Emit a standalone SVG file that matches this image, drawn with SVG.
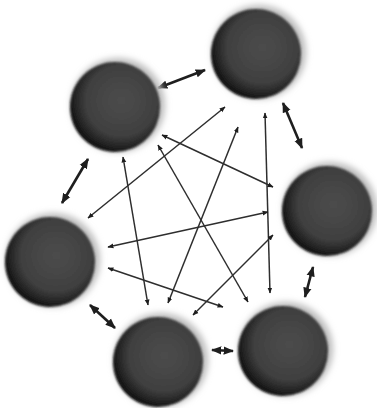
<svg xmlns="http://www.w3.org/2000/svg" width="377" height="408" viewBox="0 0 377 408">
<defs>
<style>
.edge{stroke:#2e2e2e;stroke-width:1.5;fill:none;marker-start:url(#ah);marker-end:url(#ah)}
.short{stroke:#1e1e1e;stroke-width:2.6}
.halo{fill:#bdbdbd;filter:url(#blur)}
.ball{fill:url(#g);filter:url(#soft)}
</style>
<radialGradient id="g" cx="0.57" cy="0.43" r="0.6">
<stop offset="0" stop-color="#4c4c4c"/>
<stop offset="0.65" stop-color="#404040"/>
<stop offset="0.86" stop-color="#232323"/>
<stop offset="1" stop-color="#0a0a0a"/>
</radialGradient>
<filter id="blur" x="-20%" y="-20%" width="140%" height="140%"><feGaussianBlur stdDeviation="3"/></filter>
<filter id="soft" x="-10%" y="-10%" width="120%" height="120%"><feGaussianBlur stdDeviation="1"/></filter>
<marker id="ah" viewBox="0 0 10 10" refX="9" refY="5" markerWidth="4" markerHeight="4" orient="auto-start-reverse">
<path d="M0,1 L10,5 L0,9 z" fill="#1e1e1e"/>
</marker>
</defs>
<rect width="377" height="408" fill="#ffffff"/>
<g id="connectors">
<line class="edge short" x1="158" y1="88" x2="205" y2="70"/>
<line class="edge short" x1="88" y1="159" x2="62" y2="203"/>
<line class="edge short" x1="283" y1="103" x2="302" y2="148"/>
<line class="edge short" x1="313" y1="267" x2="305" y2="297"/>
<line class="edge short" x1="212" y1="350" x2="233" y2="351"/>
<line class="edge short" x1="90" y1="305" x2="115" y2="328"/>
<line class="edge" x1="225" y1="107" x2="88" y2="218"/>
<line class="edge" x1="238" y1="127" x2="168" y2="303"/>
<line class="edge" x1="265" y1="113" x2="270" y2="293"/>
<line class="edge" x1="123" y1="157" x2="148" y2="305"/>
<line class="edge" x1="158" y1="145" x2="248" y2="302"/>
<line class="edge" x1="162" y1="135" x2="273" y2="187"/>
<line class="edge" x1="268" y1="212" x2="108" y2="247"/>
<line class="edge" x1="273" y1="235" x2="193" y2="315"/>
<line class="edge" x1="108" y1="268" x2="223" y2="307"/>
</g>
<g id="node-a">
<circle class="halo" cx="118" cy="105" r="47"/>
<circle class="ball" cx="115" cy="107" r="45"/>
</g>
<g id="node-b">
<circle class="halo" cx="259" cy="52" r="47"/>
<circle class="ball" cx="256" cy="54" r="45"/>
</g>
<g id="node-c">
<circle class="halo" cx="330" cy="209" r="47"/>
<circle class="ball" cx="327" cy="211" r="45"/>
</g>
<g id="node-d">
<circle class="halo" cx="53" cy="260" r="47"/>
<circle class="ball" cx="50" cy="262" r="45"/>
</g>
<g id="node-e">
<circle class="halo" cx="161" cy="360" r="47"/>
<circle class="ball" cx="158" cy="362" r="45"/>
</g>
<g id="node-f">
<circle class="halo" cx="286" cy="349" r="47"/>
<circle class="ball" cx="283" cy="351" r="45"/>
</g>
</svg>
